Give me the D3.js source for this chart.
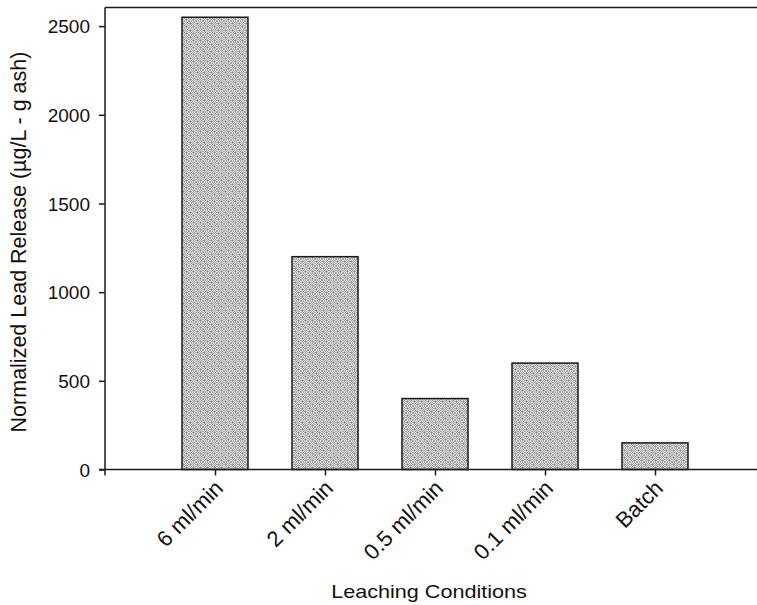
<!DOCTYPE html>
<html>
<head>
<meta charset="utf-8">
<script src="https://cdn.jsdelivr.net/npm/d3@7"></script>
<style>
  body { margin: 0; background: #fff; }
  text { font-family: "Liberation Sans", Arial, sans-serif; }
</style>
</head>
<body>
<svg id="chart" width="757" height="605"></svg>
<script>
const categories = ["6 ml/min", "2 ml/min", "0.5 ml/min", "0.1 ml/min", "Batch"];
const leadRelease = [2550, 1200, 400, 600, 150];
const yTicks = [0, 500, 1000, 1500, 2000, 2500];

const svg = d3.select("#chart");
const mLeft = 105, mTop = 7.5, mBottom = 469.5, mRight = 757;

// categories sit at 1..5 on a 0..6 axis; the frame is cut at the right edge
const x = d3.scaleLinear().domain([0, 6]).range([mLeft, 765]);
const y = d3.scaleLinear().domain([0, 2605]).range([mBottom, mTop]);
const barW = x(0.6) - x(0);

// fine dithered grey fill (1px checker with a few irregular specks)
const tile = 7;
const defs = svg.append("defs");
const pat = defs.append("pattern")
    .attr("id", "stipple")
    .attr("width", tile).attr("height", tile)
    .attr("patternUnits", "userSpaceOnUse");
pat.append("rect").attr("width", tile).attr("height", tile).attr("fill", "#dcdcdc");
for (let py = 0; py < tile; py++) {
  for (let px = 0; px < tile; px++) {
    if ((px + py) % 2 === 0) {
      pat.append("rect").attr("x", px).attr("y", py).attr("width", 1).attr("height", 1).attr("fill", "#a8a8a8");
    }
  }
}
[[1, 2], [4, 5], [5, 1], [2, 4]].forEach(([px, py]) => {
  pat.append("rect").attr("x", px).attr("y", py).attr("width", 1).attr("height", 1).attr("fill", "#8c8c8c");
});

svg.append("g")
  .selectAll("rect")
  .data(leadRelease)
  .join("rect")
    .attr("x", (d, i) => x(i + 1) - barW / 2)
    .attr("y", d => y(d))
    .attr("width", barW)
    .attr("height", d => y(0) - y(d))
    .attr("fill", "url(#stipple)")
    .attr("stroke", "#1a1a1a")
    .attr("stroke-width", 1.5);

// top frame line
svg.append("line")
  .attr("x1", mLeft).attr("x2", mRight)
  .attr("y1", mTop).attr("y2", mTop)
  .attr("stroke", "#1a1a1a").attr("stroke-width", 1.5);

// y axis
const yAxis = svg.append("g")
  .attr("transform", `translate(${mLeft},0)`)
  .call(d3.axisLeft(y).tickValues(yTicks).tickSize(6).tickPadding(9).tickFormat(d3.format("d")));
yAxis.select(".domain").attr("d", `M0,${mTop}V${mBottom + 6}`);
yAxis.selectAll(".tick text").style("font-size", "19px").attr("dy", "0.36em");

// x axis
const xAxis = svg.append("g")
  .attr("transform", `translate(0,${mBottom})`)
  .call(d3.axisBottom(x).tickValues([1, 2, 3, 4, 5]).tickSize(6).tickFormat((d) => categories[d - 1]));
xAxis.select(".domain").attr("d", `M${mLeft - 6},0H${mRight}`);
xAxis.selectAll(".tick text")
  .attr("text-anchor", "end")
  .attr("dy", null)
  .attr("y", null)
  .style("font-size", "22px")
  .attr("transform", "translate(9,20) rotate(-45)");

svg.selectAll(".domain, .tick line").attr("stroke", "#1a1a1a").attr("stroke-width", 1.5);
svg.selectAll(".tick text").attr("fill", "#111");

svg.append("text")
  .attr("transform", "translate(26,242) rotate(-90)")
  .attr("text-anchor", "middle")
  .style("font-size", "21.5px")
  .attr("fill", "#111")
  .text("Normalized Lead Release (µg/L - g ash)");

svg.append("text")
  .attr("transform", "translate(429,598) scale(1.2,1)")
  .attr("text-anchor", "middle")
  .style("font-size", "18px")
  .attr("fill", "#111")
  .text("Leaching Conditions");
</script>
</body>
</html>
